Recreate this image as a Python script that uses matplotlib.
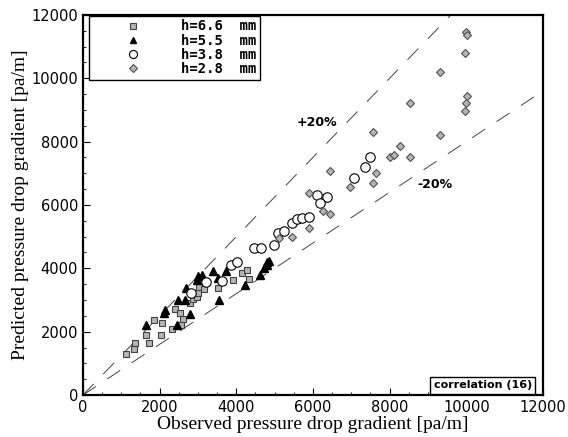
import numpy as np
import matplotlib
matplotlib.use("Agg")
import matplotlib.pyplot as plt
from matplotlib.ticker import MultipleLocator

# h = 6.6 mm
sq_x = [1119, 1320, 1361, 1726, 1640, 2049, 1856, 2075, 2335, 2551, 2621, 2403,
        2533, 2793, 2882, 2967, 3001, 3027, 3157, 3532, 3923, 4139, 4287, 4329]
sq_y = [1295, 1443, 1652, 1652, 1895, 1895, 2369, 2283, 2075, 2211, 2391, 2706,
        2599, 2915, 3022, 3085, 3212, 3420, 3338, 3389, 3632, 3843, 3948, 3654]

# h = 5.5 mm
tr_x = [1658, 2116, 2134, 2481, 2655, 2681, 2447, 2793, 2967, 3001, 3098, 3402,
        3522, 3722, 3548, 4217, 4615, 4719, 4808, 4849, 4790]
tr_y = [2211, 2599, 2684, 3000, 3000, 3370, 2211, 2558, 3632, 3758, 3790, 3925,
        3685, 3916, 3000, 3474, 3790, 4001, 4210, 4241, 4105]

# h = 3.8 mm
ci_x = [2811, 3202, 3636, 3852, 4009, 4459, 4633, 4980, 5089, 5232, 5459, 5578,
        5719, 5904, 6110, 6370, 6195, 7062, 7367, 7497]
ci_y = [3212, 3578, 3600, 4105, 4191, 4652, 4652, 4737, 5106, 5170, 5422, 5542,
        5574, 5605, 6316, 6262, 6073, 6843, 7191, 7507]

# h = 2.8 mm
di_x = [5110, 5459, 5891, 5891, 6265, 6456, 6456, 6976, 7653, 7567, 8017, 8121,
        8278, 8520, 7567, 10003, 10010, 9969, 9319, 8520, 10013, 9995, 9969, 9319]
di_y = [4958, 4999, 5264, 6370, 5811, 5716, 7083, 6578, 7020, 6685, 7507, 7570,
        7863, 7526, 8296, 11448, 11380, 10791, 10191, 9212, 9452, 9212, 8978, 8211]

labels = ['h=6.6  mm', 'h=5.5  mm', 'h=3.8  mm', 'h=2.8  mm']

fig = plt.figure(figsize=(5.68, 4.37), dpi=100)
ax = fig.add_axes([0.146, 0.096, 0.810, 0.870])

# +/-20% lines
xl = np.array([0, 12000])
ax.plot(xl, 1.25 * xl, color='#444444', lw=0.7, dashes=(16, 14))
ax.plot(xl, 0.8 * xl, color='#444444', lw=0.7, dashes=(16, 14))

ax.plot(sq_x, sq_y, 's', ms=4.8, mfc='#b4b4b4', mec='#404040', mew=0.8, ls='none', label=labels[0])
ax.plot(tr_x, tr_y, '^', ms=5.2, mfc='black', mec='black', ls='none', label=labels[1])
ax.plot(ci_x, ci_y, 'o', ms=6.8, mfc='white', mec='black', mew=0.8, ls='none', label=labels[2])
ax.plot(di_x, di_y, 'D', ms=4.3, mfc='#b4b4b4', mec='#505050', mew=0.8, ls='none', label=labels[3])

ax.set_xlim(0, 12000)
ax.set_ylim(0, 12000)
ax.xaxis.set_major_locator(MultipleLocator(2000))
ax.yaxis.set_major_locator(MultipleLocator(2000))
ax.xaxis.set_minor_locator(MultipleLocator(500))
ax.yaxis.set_minor_locator(MultipleLocator(500))
ax.tick_params(which='both', direction='in', top=False, right=False, labelsize=10.5)
ax.tick_params(which='major', length=5)
ax.tick_params(which='minor', length=2.5)
for s in ax.spines.values():
    s.set_linewidth(1.6)

ax.set_xlabel('Observed pressure drop gradient [pa/m]', family='Liberation Serif', fontsize=14, labelpad=1)
ax.set_ylabel('Predicted pressure drop gradient [pa/m]', family='Liberation Serif', fontsize=14, labelpad=2)

ax.text(6109, 8600, '+20%', fontsize=9, fontweight='bold', ha='center', va='center')
ax.text(9190, 6632, '-20%', fontsize=9, fontweight='bold', ha='center', va='center')

ax.text(0.976, 0.012, 'correlation (16)', transform=ax.transAxes, fontsize=8, fontweight='bold',
        ha='right', va='bottom',
        bbox=dict(boxstyle='square,pad=0.3', fc='white', ec='black', lw=1))

leg = ax.legend(loc='upper left', bbox_to_anchor=(0.013, 0.997), borderaxespad=0,
                prop={'family': 'DejaVu Sans Mono', 'weight': 'bold', 'size': 10},
                frameon=True, fancybox=False, edgecolor='black', framealpha=1,
                markerscale=0.85, handletextpad=0.6, labelspacing=0.02, borderpad=0.25,
                handlelength=5.8)
leg.get_frame().set_linewidth(1)

plt.savefig('out.png', dpi=100)
